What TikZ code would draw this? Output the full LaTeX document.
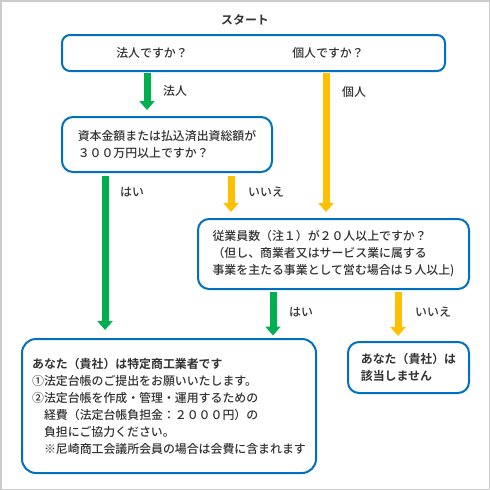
\documentclass[tikz,border=0pt]{standalone}
\usepackage{fontspec}
\setmainfont{Noto Sans CJK JP Medium}[BoldFont={Noto Sans CJK JP Bold}]
\usepackage{tikz}
\usetikzlibrary{positioning, arrows.meta}
\definecolor{boxblue}{RGB}{0,112,192}
\definecolor{yesgreen}{RGB}{0,176,80}
\definecolor{noyellow}{RGB}{255,192,0}
\definecolor{txtgray}{RGB}{51,51,51}
\definecolor{framegray}{RGB}{204,204,204}

\begin{document}
\begin{tikzpicture}[x=1pt, y=-1pt,
			font=\fontsize{11.9}{17}\selectfont,
			every node/.append style={text=txtgray},
			qbox/.style={draw=boxblue, line width=2pt, rounded corners=11pt, fill=white, align=left, anchor=north west, outer sep=0pt, inner sep=0pt},
			yesarrow/.style={draw=yesgreen, line width=7pt, -{Triangle[width=15pt, length=9pt]}},
			noarrow/.style={yesarrow, draw=noyellow},
			lbl/.style={anchor=west, inner sep=0pt}
			]
			\useasboundingbox (0,0) rectangle (490,490);
			\draw[framegray, line width=1.5pt] (0.75,0.75) rectangle (489.25,489.25);
			
			\node[font=\bfseries\fontsize{11.9}{17}\selectfont] (start) at (245,20) {スタート};
			\node[qbox, rounded corners=8pt, minimum width=383pt, minimum height=36pt] (q0) at (62,35) {};
			\node (corp) at (152,53) {法人ですか？};
			\node (indiv) at (328,53) {個人ですか？};
			\node[qbox, minimum width=210pt, minimum height=55pt] (q1) at (62,117) {資本金額または払込済出資総額が\\３００万円以上ですか？};
			\node[qbox, minimum width=271pt, minimum height=70pt] (q2) at (198,219) {従業員数（注１）が２０人以上ですか？\\（但し、商業者又はサービス業に属する\\事業を主たる事業として営む場合は５人以上)};
			\node[qbox, rounded corners=14pt, minimum width=294pt, minimum height=134pt] (r1) at (22,339) {{\bfseries あなた（貴社）は特定商工業者です}\\①法定台帳のご提出をお願いいたします。\\②法定台帳を作成・管理・運用するための\\\hspace*{1em}経費（法定台帳負担金：２０００円）の\\\hspace*{1em}負担にご協力ください。\\\hspace*{1em}※尼崎商工会議所会員の場合は会費に含まれます};
			\node[qbox, minimum width=121pt, minimum height=51pt, font=\bfseries\fontsize{11.9}{17}\selectfont] (r2) at (348,342) {あなた（貴社）は\\該当しません};
			
			\coordinate (xa) at (147,0);
			\coordinate (xb) at (326,0);
			\coordinate (xc) at (105,0);
			\coordinate (xd) at (231,0);
			\coordinate (xe) at (273,0);
			\coordinate (xf) at (398,0);
			
			\draw[yesarrow, shorten <=2pt, shorten >=7pt] (q0.south -| xa) -- (q1.north -| xa);
			\draw[noarrow, shorten <=2pt, shorten >=7pt] (q0.south -| xb) -- (q2.north -| xb);
			\draw[yesarrow, shorten <=4pt, shorten >=9pt] (q1.south -| xc) -- (r1.north -| xc);
			\draw[noarrow, shorten <=4pt, shorten >=7pt] (q1.south -| xd) -- (q2.north -| xd);
			\draw[yesarrow, shorten <=3pt, shorten >=3.5pt] (q2.south -| xe) -- (r1.north -| xe);
			\draw[noarrow, shorten <=3pt, shorten >=6pt] (q2.south -| xf) -- (r2.north -| xf);
			
			\node[lbl] (l1) at (163,91) {法人};
			\node[lbl] (l2) at (342,92) {個人};
			\node[lbl] (l3) at (120,192) {はい};
			\node[lbl] (l4) at (248,192) {いいえ};
			\node[lbl] (l5) at (289,312) {はい};
			\node[lbl] (l6) at (415,312) {いいえ};
		\end{tikzpicture}
\end{document}
